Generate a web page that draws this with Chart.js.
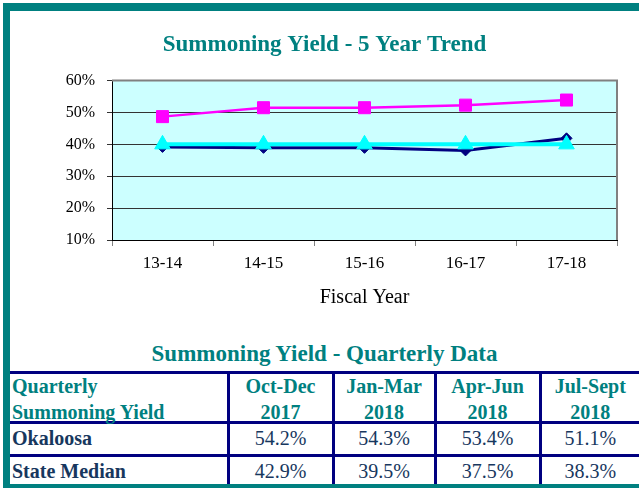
<!DOCTYPE html>
<html>
<head>
  <title>Summoning Yield</title>
  <script src="https://cdn.jsdelivr.net/npm/chart.js"></script>
  <style>
    body {
      margin: 0;
      background: white;
      font-family: "Liberation Serif", "Times New Roman", serif;
    }
    .frame {
      position: absolute;
      background: #008080;
    }
    .chart-box {
      position: absolute;
      left: 10px;
      top: 11px;
      width: 629px;
      height: 330px;
    }
    .table-title {
      position: absolute;
      left: 10px;
      width: 629px;
      top: 341px;
      text-align: center;
      font-weight: bold;
      font-size: 23px;
      line-height: 26px;
      color: #008080;
    }
    table {
      position: absolute;
      left: 10px;
      top: 371px;
      width: 629px;
      border-collapse: collapse;
      table-layout: fixed;
    }
    td {
      padding: 0;
      border: 3px solid #000080;
      text-align: center;
      font-size: 20px;
      color: #17375e;
    }
    td:first-child { border-left: none; text-align: left; padding-left: 2px; font-weight: bold; }
    td:last-child { border-right: none; }
    tr:last-child td { border-bottom: none; }
    .head td { height: 47px; color: #008080; font-weight: bold; vertical-align: top; }
    .head td div { height: 47px; line-height: 25.7px; overflow: visible; }
    .row td { height: 27px; line-height: 24px; padding-bottom: 3px; }
  </style>
</head>
<body>
  <div class="frame" style="left:3px; top:3px; width:636px; height:8px;"></div>
  <div class="frame" style="left:3px; top:3px; width:7px; height:485px;"></div>
  <div class="chart-box"><canvas id="trendChart"></canvas></div>
  <div class="table-title">Summoning Yield - Quarterly Data</div>
  <table id="quarterly">
    <colgroup>
      <col style="width:218px"><col style="width:105px"><col style="width:102px"><col style="width:105px"><col style="width:99px">
    </colgroup>
  </table>
  <div class="frame" style="left:3px; top:484px; width:636px; height:4px;"></div>

  <script>
    // 5 year trend
    const fiscalYears = ['13-14', '14-15', '15-16', '16-17', '17-18'];
    const okaloosaTrend = [48.7, 51.5, 51.5, 52.3, 53.9];
    const stateMedianTrend = [39.2, 38.9, 38.9, 38.1, 41.9];
    const benchmarkTrend = [40, 40, 40, 40, 40];

    // quarterly table
    const quarters = ['Oct-Dec', 'Jan-Mar', 'Apr-Jun', 'Jul-Sept'];
    const quarterYears = ['2017', '2018', '2018', '2018'];
    const okaloosaQuarterly = ['54.2%', '54.3%', '53.4%', '51.1%'];
    const stateQuarterly = ['42.9%', '39.5%', '37.5%', '38.3%'];

    function buildTable() {
      const table = document.getElementById('quarterly');
      let html = '<tr class="head"><td><div>Quarterly<br>Summoning Yield</div></td>';
      quarters.forEach((q, i) => {
        html += `<td><div>${q}<br>${quarterYears[i]}</div></td>`;
      });
      html += '</tr><tr class="row"><td>Okaloosa</td>';
      okaloosaQuarterly.forEach(v => { html += `<td>${v}</td>`; });
      html += '</tr><tr class="row"><td>State Median</td>';
      stateQuarterly.forEach(v => { html += `<td>${v}</td>`; });
      html += '</tr>';
      table.insertAdjacentHTML('beforeend', html);
    }
    buildTable();

    // cyan plot background + grey top/right edge, like the old excel chart
    const plotBackground = {
      id: 'plotBackground',
      beforeDraw(chart) {
        const { ctx, chartArea: a } = chart;
        ctx.save();
        ctx.fillStyle = '#ccffff';
        ctx.fillRect(a.left, a.top, a.right - a.left, a.bottom - a.top);
        ctx.restore();
      },
      afterDraw(chart) {
        const { ctx, chartArea: a } = chart;
        ctx.save();
        ctx.strokeStyle = '#808080';
        ctx.lineWidth = 2;
        ctx.beginPath();
        ctx.moveTo(a.left, a.top);
        ctx.lineTo(a.right, a.top);
        ctx.lineTo(a.right, a.bottom);
        ctx.stroke();
        ctx.restore();
      }
    };

    const serif = '"Liberation Serif", "Times New Roman", serif';

    new Chart(document.getElementById('trendChart'), {
      type: 'line',
      data: {
        labels: fiscalYears,
        datasets: [
          {
            label: 'Okaloosa',
            data: okaloosaTrend,
            borderColor: '#ff00ff',
            backgroundColor: '#ff00ff',
            borderWidth: 2.5,
            pointStyle: 'rect',
            pointRadius: 8.5,
            pointBorderWidth: 1,
            order: 2
          },
          {
            label: 'State Median',
            data: stateMedianTrend,
            borderColor: '#000080',
            backgroundColor: '#000080',
            borderWidth: 3,
            pointStyle: 'rectRot',
            pointRadius: 5.5,
            pointBorderWidth: 1,
            order: 1
          },
          {
            label: 'Benchmark',
            data: benchmarkTrend,
            borderColor: '#00ffff',
            backgroundColor: '#00ffff',
            borderWidth: 4,
            pointStyle: 'triangle',
            pointRadius: 9,
            pointBorderWidth: 1,
            order: 0
          }
        ]
      },
      options: {
        responsive: true,
        maintainAspectRatio: false,
        animation: false,
        layout: { padding: 0 },
        plugins: {
          legend: { display: false },
          tooltip: { enabled: false },
          title: {
            display: true,
            text: 'Summoning Yield - 5 Year Trend',
            color: '#008080',
            font: { family: serif, size: 23, weight: 'bold' },
            padding: { top: 20, bottom: 22 }
          }
        },
        scales: {
          x: {
            offset: true,
            border: { color: '#000000' },
            grid: { offset: true, drawOnChartArea: false, drawTicks: true, tickLength: 6, color: '#808080' },
            ticks: { color: '#000', font: { family: serif, size: 17 }, padding: 7 },
            title: {
              display: true,
              text: 'Fiscal Year',
              color: '#000',
              font: { family: serif, size: 20 },
              padding: { top: 5.6, bottom: 31 }
            }
          },
          y: {
            min: 10,
            max: 60,
            border: { color: '#000000' },
            grid: { color: '#333333', tickLength: 5, lineWidth: 1 },
            ticks: {
              stepSize: 10,
              color: '#000',
              padding: 12,
              font: { family: serif, size: 16 },
              callback: v => v + '%'
            },
            afterFit(scale) { scale.width = 102; }
          },
          // empty right-hand gutter so the title stays centred on the whole box
          gutter: {
            type: 'linear',
            position: 'right',
            display: true,
            grid: { display: false },
            border: { display: false },
            ticks: { display: false },
            afterFit(scale) { scale.width = 22; }
          }
        }
      },
      plugins: [plotBackground]
    });
  </script>
</body>
</html>
